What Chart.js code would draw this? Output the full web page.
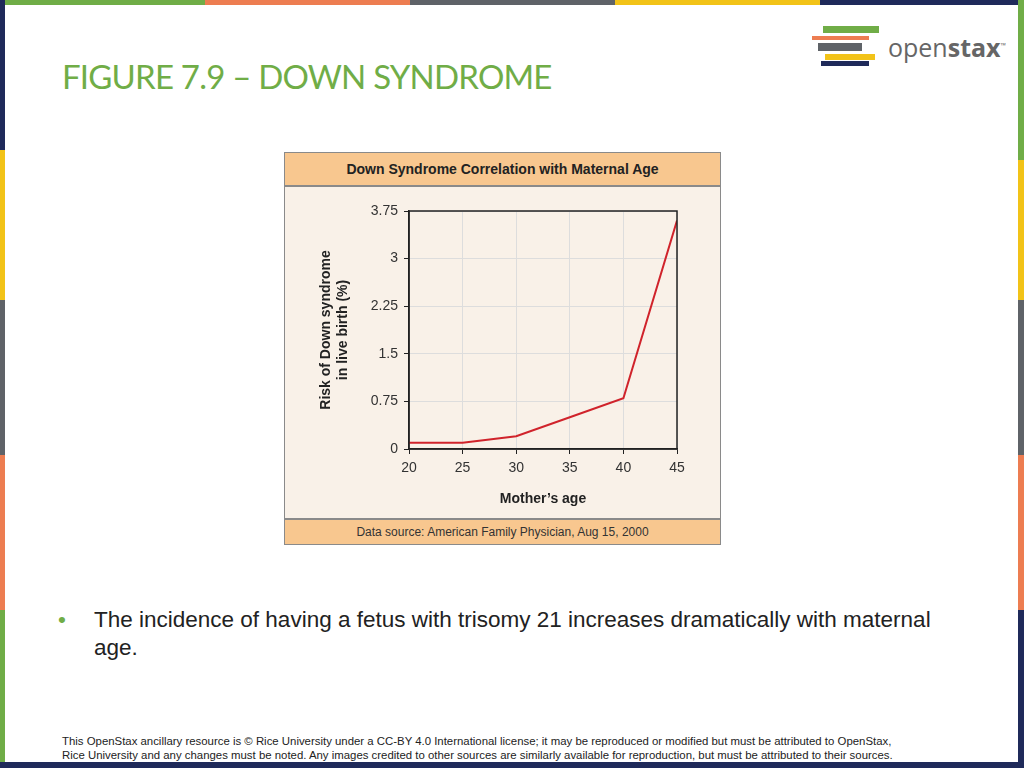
<!DOCTYPE html>
<html>
<head>
<meta charset="utf-8">
<script src="https://cdn.jsdelivr.net/npm/chart.js@4"></script>
<style>
  body { margin: 0; width: 1024px; height: 768px; position: relative; background: #fff; overflow: hidden; font-family: "Liberation Sans", Arial, sans-serif; }
  .seg { position: absolute; }
  #title { position: absolute; left: 62px; top: 56px; font-family: Lato, sans-serif; font-size: 33px; color: #70ad47; letter-spacing: -0.8px; }
  #box { position: absolute; left: 284px; top: 152px; width: 435px; height: 391px; border: 1px solid #8a8a8a; background: #f9f1e8; }
  #boxTitle { position: absolute; left: 0; top: 0; width: 435px; height: 32px; background: #f8c78f; border-bottom: 2px solid #8a8a8a; font-weight: bold; font-size: 14px; color: #222; text-align: center; line-height: 32px; }
  #boxFoot { position: absolute; left: 0; bottom: 0; width: 435px; height: 24px; background: #f8c78f; border-top: 2px solid #8a8a8a; font-size: 12px; color: #333; text-align: center; line-height: 24px; }
  #chartWrap { position: absolute; left: 1px; top: 34px; width: 433px; height: 331px; }
  #bullet { position: absolute; left: 58px; top: 606px; font-size: 22.5px; color: #222; line-height: 28px; width: 900px; }
  #bullet span.dot { position: absolute; left: 0; color: #70ad47; }
  #bullet div { margin-left: 36px; width: 860px; }
  #foot { position: absolute; left: 62px; top: 734px; font-size: 11.4px; color: #222; line-height: 14px; }
  #logo { position: absolute; left: 888px; top: 30px; font-family: "Open Sans", sans-serif; font-size: 25px; color: #666; }
</style>
</head>
<body>
<div class="seg" style="left:0;top:0;width:205px;height:5px;background:#70ad47"></div>
<div class="seg" style="left:205px;top:0;width:205px;height:5px;background:#ed7d51"></div>
<div class="seg" style="left:410px;top:0;width:205px;height:5px;background:#5f6368"></div>
<div class="seg" style="left:615px;top:0;width:205px;height:5px;background:#f2c318"></div>
<div class="seg" style="left:820px;top:0;width:204px;height:5px;background:#1f2a5a"></div>
<div class="seg" style="left:0;top:0;width:5px;height:150px;background:#1f2a5a"></div>
<div class="seg" style="left:0;top:150px;width:5px;height:150px;background:#f2c318"></div>
<div class="seg" style="left:0;top:300px;width:5px;height:155px;background:#5f6368"></div>
<div class="seg" style="left:0;top:455px;width:5px;height:155px;background:#ed7d51"></div>
<div class="seg" style="left:0;top:610px;width:5px;height:158px;background:#70ad47"></div>
<div class="seg" style="left:1018px;top:0;width:6px;height:160px;background:#70ad47"></div>
<div class="seg" style="left:1018px;top:160px;width:6px;height:140px;background:#f2c318"></div>
<div class="seg" style="left:1018px;top:300px;width:6px;height:155px;background:#5f6368"></div>
<div class="seg" style="left:1018px;top:455px;width:6px;height:155px;background:#ed7d51"></div>
<div class="seg" style="left:1018px;top:610px;width:6px;height:158px;background:#1f2a5a"></div>
<div class="seg" style="left:0;top:762px;width:1024px;height:6px;background:#1f2a5a"></div>

<div class="seg" style="left:823px;top:26px;width:56px;height:7px;background:#70ad47"></div>
<div class="seg" style="left:812px;top:36px;width:57px;height:4px;background:#ed7d51"></div>
<div class="seg" style="left:818px;top:43px;width:44px;height:8px;background:#5f6368"></div>
<div class="seg" style="left:825px;top:54px;width:50px;height:6px;background:#f2c318"></div>
<div class="seg" style="left:821px;top:61px;width:48px;height:5px;background:#1f2a5a"></div>
<div id="logo">open<b>stax</b><sup style="font-size:7px">™</sup></div>

<div id="title">FIGURE 7.9 – DOWN SYNDROME</div>

<div id="box">
  <div id="boxTitle">Down Syndrome Correlation with Maternal Age</div>
  <div id="chartWrap"><canvas id="c"></canvas></div>
  <div id="boxFoot">Data source: American Family Physician, Aug 15, 2000</div>
</div>

<div id="bullet"><span class="dot">•</span><div>The incidence of having a fetus with trisomy 21 increases dramatically with maternal age.</div></div>
<div id="foot">This OpenStax ancillary resource is © Rice University under a CC-BY 4.0 International license; it may be reproduced or modified but must be attributed to OpenStax,<br>Rice University and any changes must be noted. Any images credited to other sources are similarly available for reproduction, but must be attributed to their sources.</div>

<script>
// data
var ages = [20, 25, 30, 35, 40, 45];
var riskPercent = [0.1, 0.1, 0.2, 0.5, 0.8, 3.6];
var yTicks = [0, 0.75, 1.5, 2.25, 3, 3.75];

var points = [];
for (var i = 0; i < ages.length; i++) {
  points.push({ x: ages[i], y: riskPercent[i] });
}

// box around the plot area
var frame = {
  id: 'frame',
  afterDraw: function (chart) {
    var a = chart.chartArea;
    var ctx = chart.ctx;
    ctx.save();
    ctx.strokeStyle = '#222';
    ctx.lineWidth = 1.5;
    ctx.strokeRect(a.left, a.top, a.right - a.left, a.bottom - a.top);
    ctx.restore();
  }
};

new Chart(document.getElementById('c'), {
  type: 'line',
  data: {
    datasets: [{
      data: points,
      borderColor: '#d0232b',
      borderWidth: 2,
      pointRadius: 0,
      tension: 0
    }]
  },
  options: {
    responsive: true,
    maintainAspectRatio: false,
    animation: false,
    layout: { padding: { top: 24, right: 42, left: 28, bottom: 6 } },
    plugins: { legend: { display: false }, tooltip: { enabled: false } },
    scales: {
      x: {
        type: 'linear', min: 20, max: 45,
        ticks: { stepSize: 5, color: '#333', font: { size: 14 }, padding: 6 },
        grid: { color: '#ddd', tickColor: '#222', tickLength: 5 },
        border: { color: '#222', width: 1.5 },
        title: { display: true, text: 'Mother\u2019s age', color: '#222', font: { size: 14, weight: 'bold' }, padding: { top: 4 } },
        afterFit: function (s) { s.height = 63; }
      },
      y: {
        min: 0, max: 3.75,
        afterBuildTicks: function (s) { s.ticks = yTicks.map(function (v) { return { value: v }; }); },
        ticks: { color: '#333', font: { size: 14 }, padding: 6, callback: function (v) { return String(v); } },
        grid: { color: '#ddd', tickColor: '#222', tickLength: 5 },
        border: { color: '#222', width: 1.5 },
        title: { display: true, text: ['Risk of Down syndrome', 'in live birth (%)'], color: '#222', font: { size: 14, weight: 'bold' }, padding: { bottom: 4 } },
        afterFit: function (s) { s.width = 95; }
      }
    }
  },
  plugins: [frame]
});
</script>
</body>
</html>
